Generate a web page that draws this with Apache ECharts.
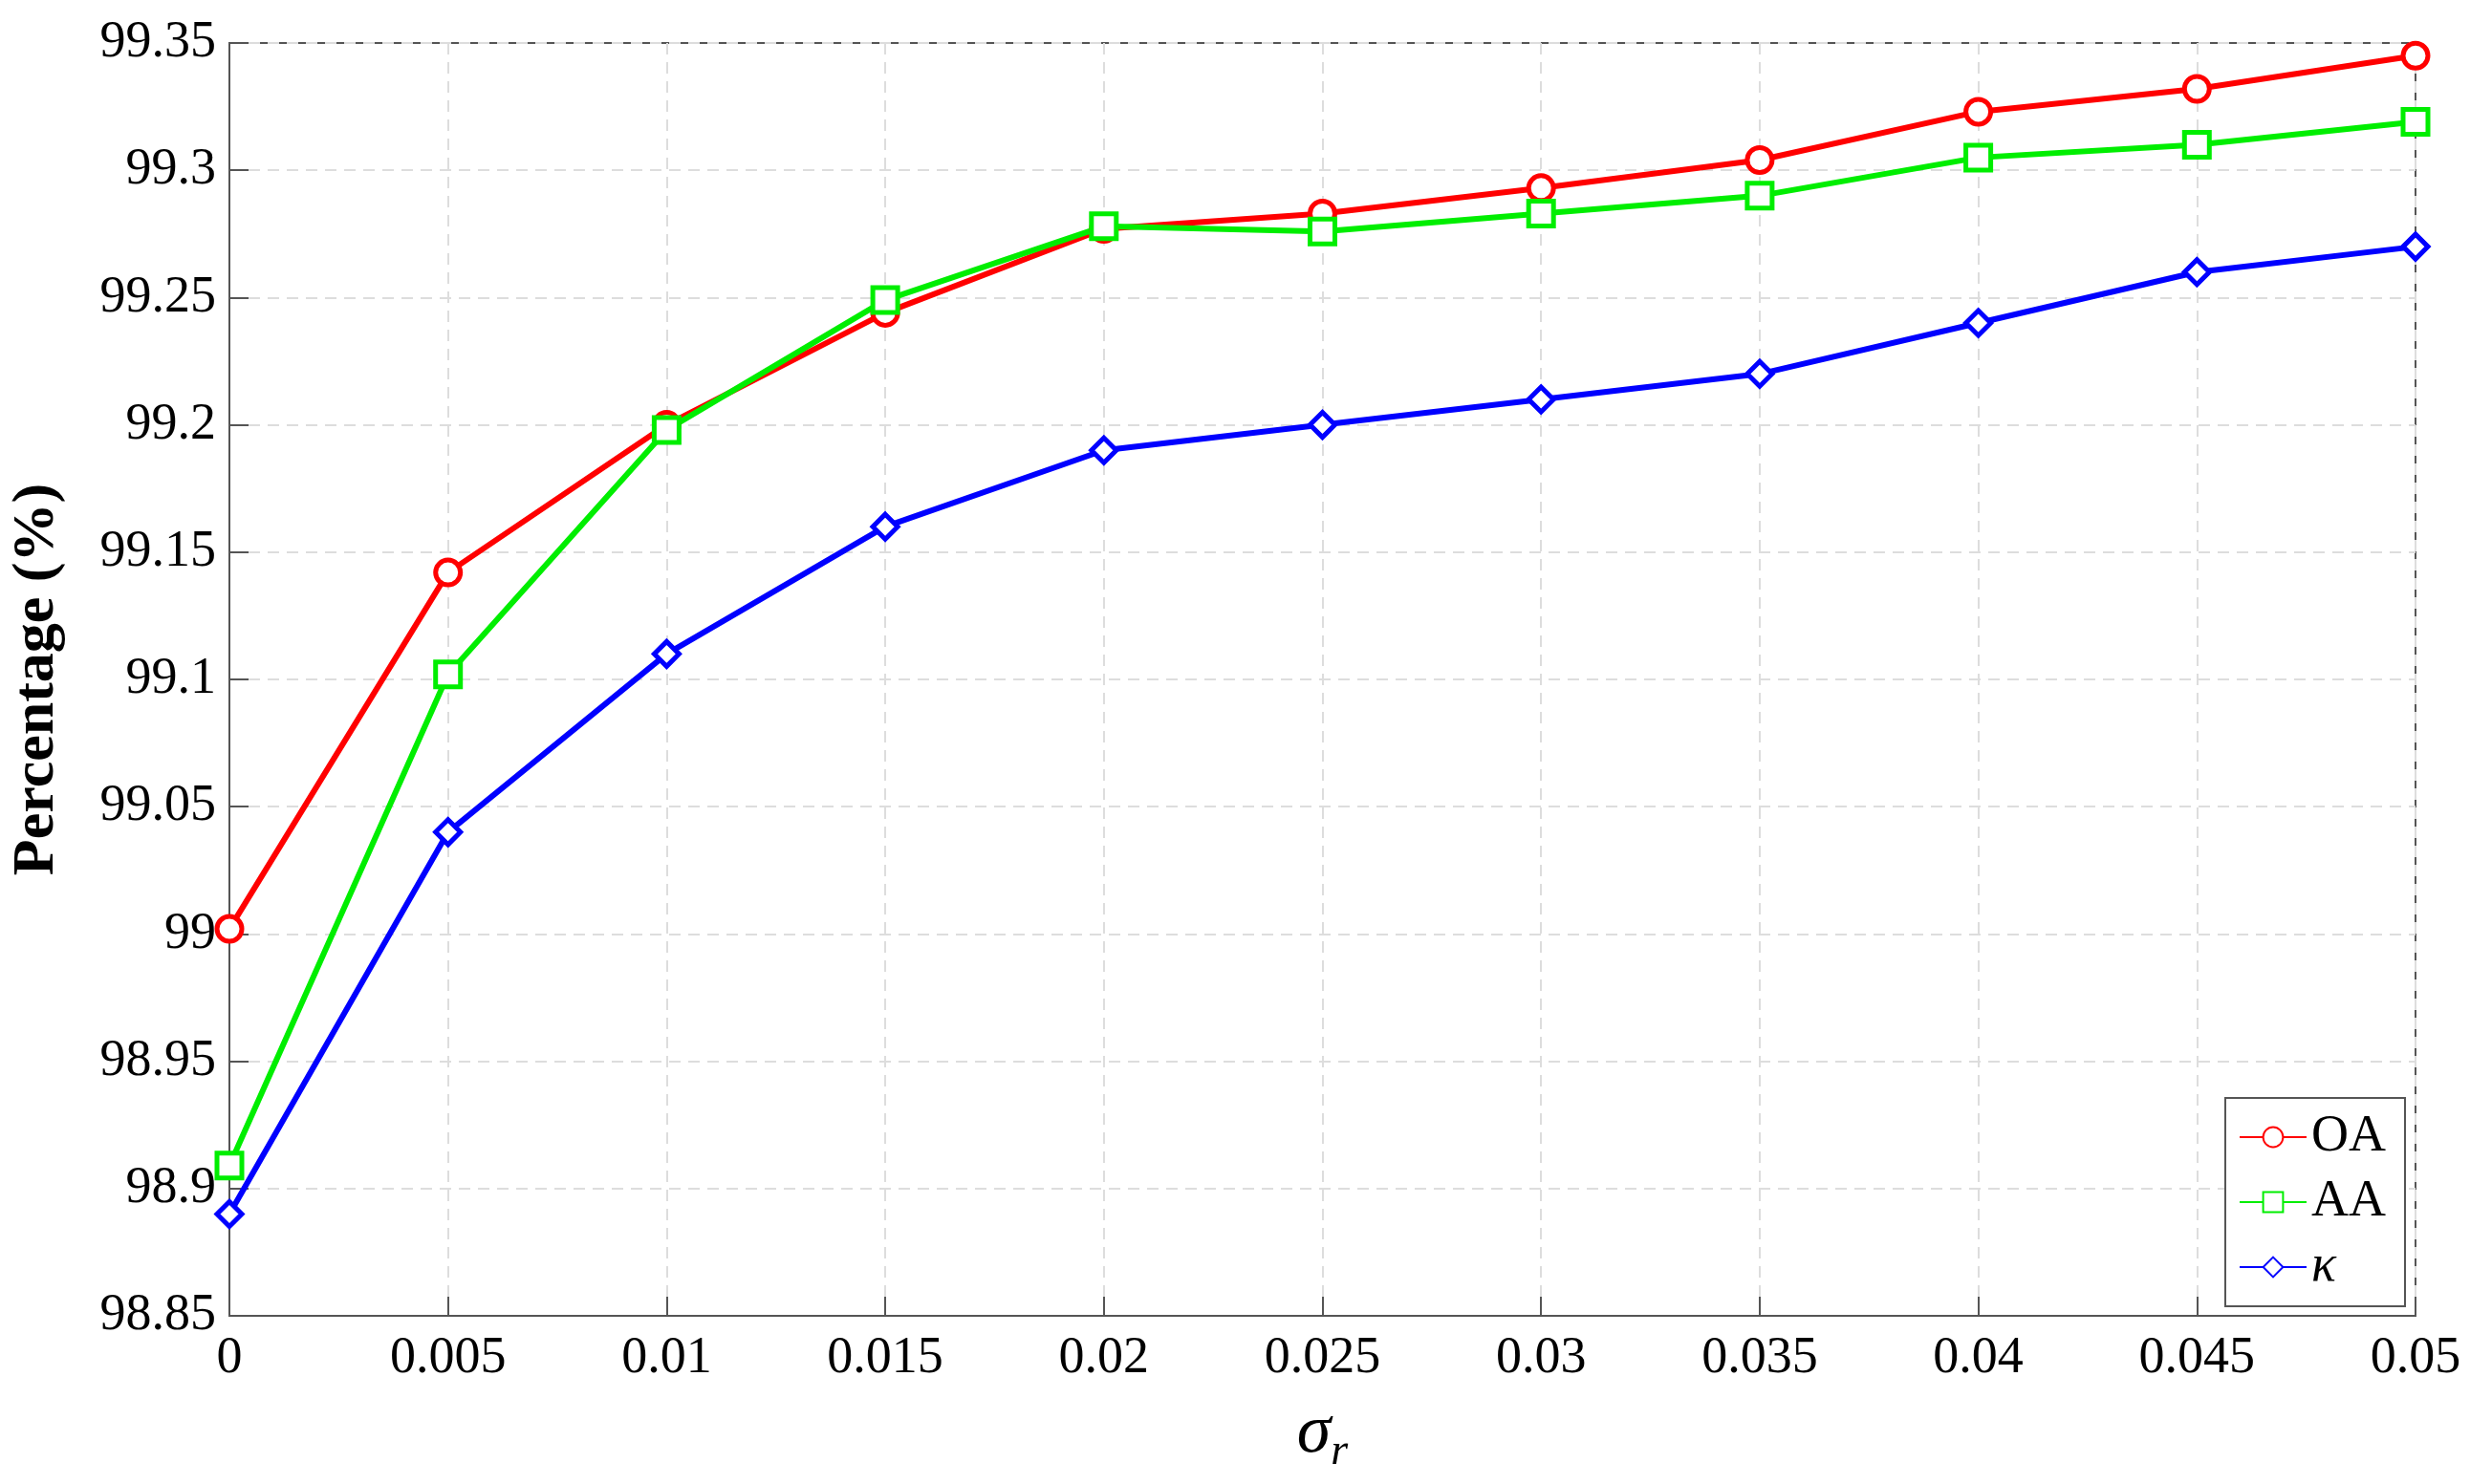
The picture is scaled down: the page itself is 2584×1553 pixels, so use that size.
<!DOCTYPE html>
<html><head><meta charset="utf-8">
<script src="https://cdn.jsdelivr.net/npm/echarts@6/dist/echarts.min.js"></script>
<style>html,body{margin:0;background:#fff}#c{width:2584px;height:1553px}</style>
</head><body><div id="c"></div>
<script>
const xs = [0,0.005,0.01,0.015,0.02,0.025,0.03,0.035,0.04,0.045,0.05];
const oa = [99.002,99.142,99.200,99.244,99.277,99.283,99.293,99.304,99.323,99.332,99.345];
const aa = [98.909,99.102,99.198,99.249,99.278,99.276,99.283,99.290,99.305,99.310,99.319];
const kappa = [98.89,99.04,99.11,99.16,99.19,99.20,99.21,99.22,99.24,99.26,99.27];
const yTicks = [98.85,98.9,98.95,99,99.05,99.1,99.15,99.2,99.25,99.3,99.35];
const F = 'Liberation Serif, Times New Roman, serif';
const pair = a => a.map((v,i)=>[xs[i],v]);
const mk = (name,data,color,symbol)=>({name,type:'line',data:pair(data),symbol,symbolSize:26,
  lineStyle:{color,width:6},itemStyle:{color:'#fff',borderColor:color,borderWidth:5},color});
const ch = echarts.init(document.getElementById('c'));
ch.setOption({
  animation:false,
  grid:{left:228,right:57,top:45,bottom:176,show:true,borderColor:'#555',borderWidth:2},
  xAxis:{type:'value',min:0,max:0.05,interval:0.005,
    name:'{s|σ}{r|r}',nameLocation:'middle',nameGap:80,
    nameTextStyle:{rich:{s:{fontFamily:F,fontStyle:'italic',fontSize:72,color:'#000'},r:{fontFamily:F,fontStyle:'italic',fontSize:46,color:'#000',verticalAlign:'bottom',padding:[40,0,0,0]}}},
    axisLine:{lineStyle:{color:'#555',width:2}},axisTick:{inside:true,length:20,lineStyle:{color:'#555',width:2}},
    axisLabel:{fontFamily:F,fontSize:54,color:'#000',margin:18,formatter:v=>String(+v.toFixed(3))},
    splitLine:{show:true,lineStyle:{color:'#ddd',type:[12,8],width:2}}},
  yAxis:{type:'value',min:98.85,max:99.35,interval:0.05,
    name:'Percentage (%)',nameLocation:'middle',nameGap:170,
    nameTextStyle:{fontFamily:F,fontSize:62,fontWeight:'bold',color:'#000'},
    axisLine:{lineStyle:{color:'#555',width:2}},axisTick:{inside:true,length:20,lineStyle:{color:'#555',width:2}},
    axisLabel:{fontFamily:F,fontSize:54,color:'#000',margin:14,formatter:v=>String(+v.toFixed(2))},
    splitLine:{show:true,lineStyle:{color:'#ddd',type:[12,8],width:2}}},
  legend:{orient:'vertical',right:68,bottom:186,backgroundColor:'#fff',borderColor:'#555',borderWidth:2,
    padding:[14,20,14,14],itemGap:14,itemWidth:70,itemHeight:26,
    textStyle:{fontFamily:F,fontSize:54,color:'#000',rich:{k:{fontFamily:F,fontSize:54,fontStyle:'italic',color:'#000'}}},
    formatter:n=>n==='κ'?'{k|κ}':n,
    data:['OA','AA','κ']},
  series:[mk('OA',oa,'#ff0000','circle'),mk('AA',aa,'#00ee00','rect'),mk('κ',kappa,'#0000ff','diamond')]
});
</script></body></html>
